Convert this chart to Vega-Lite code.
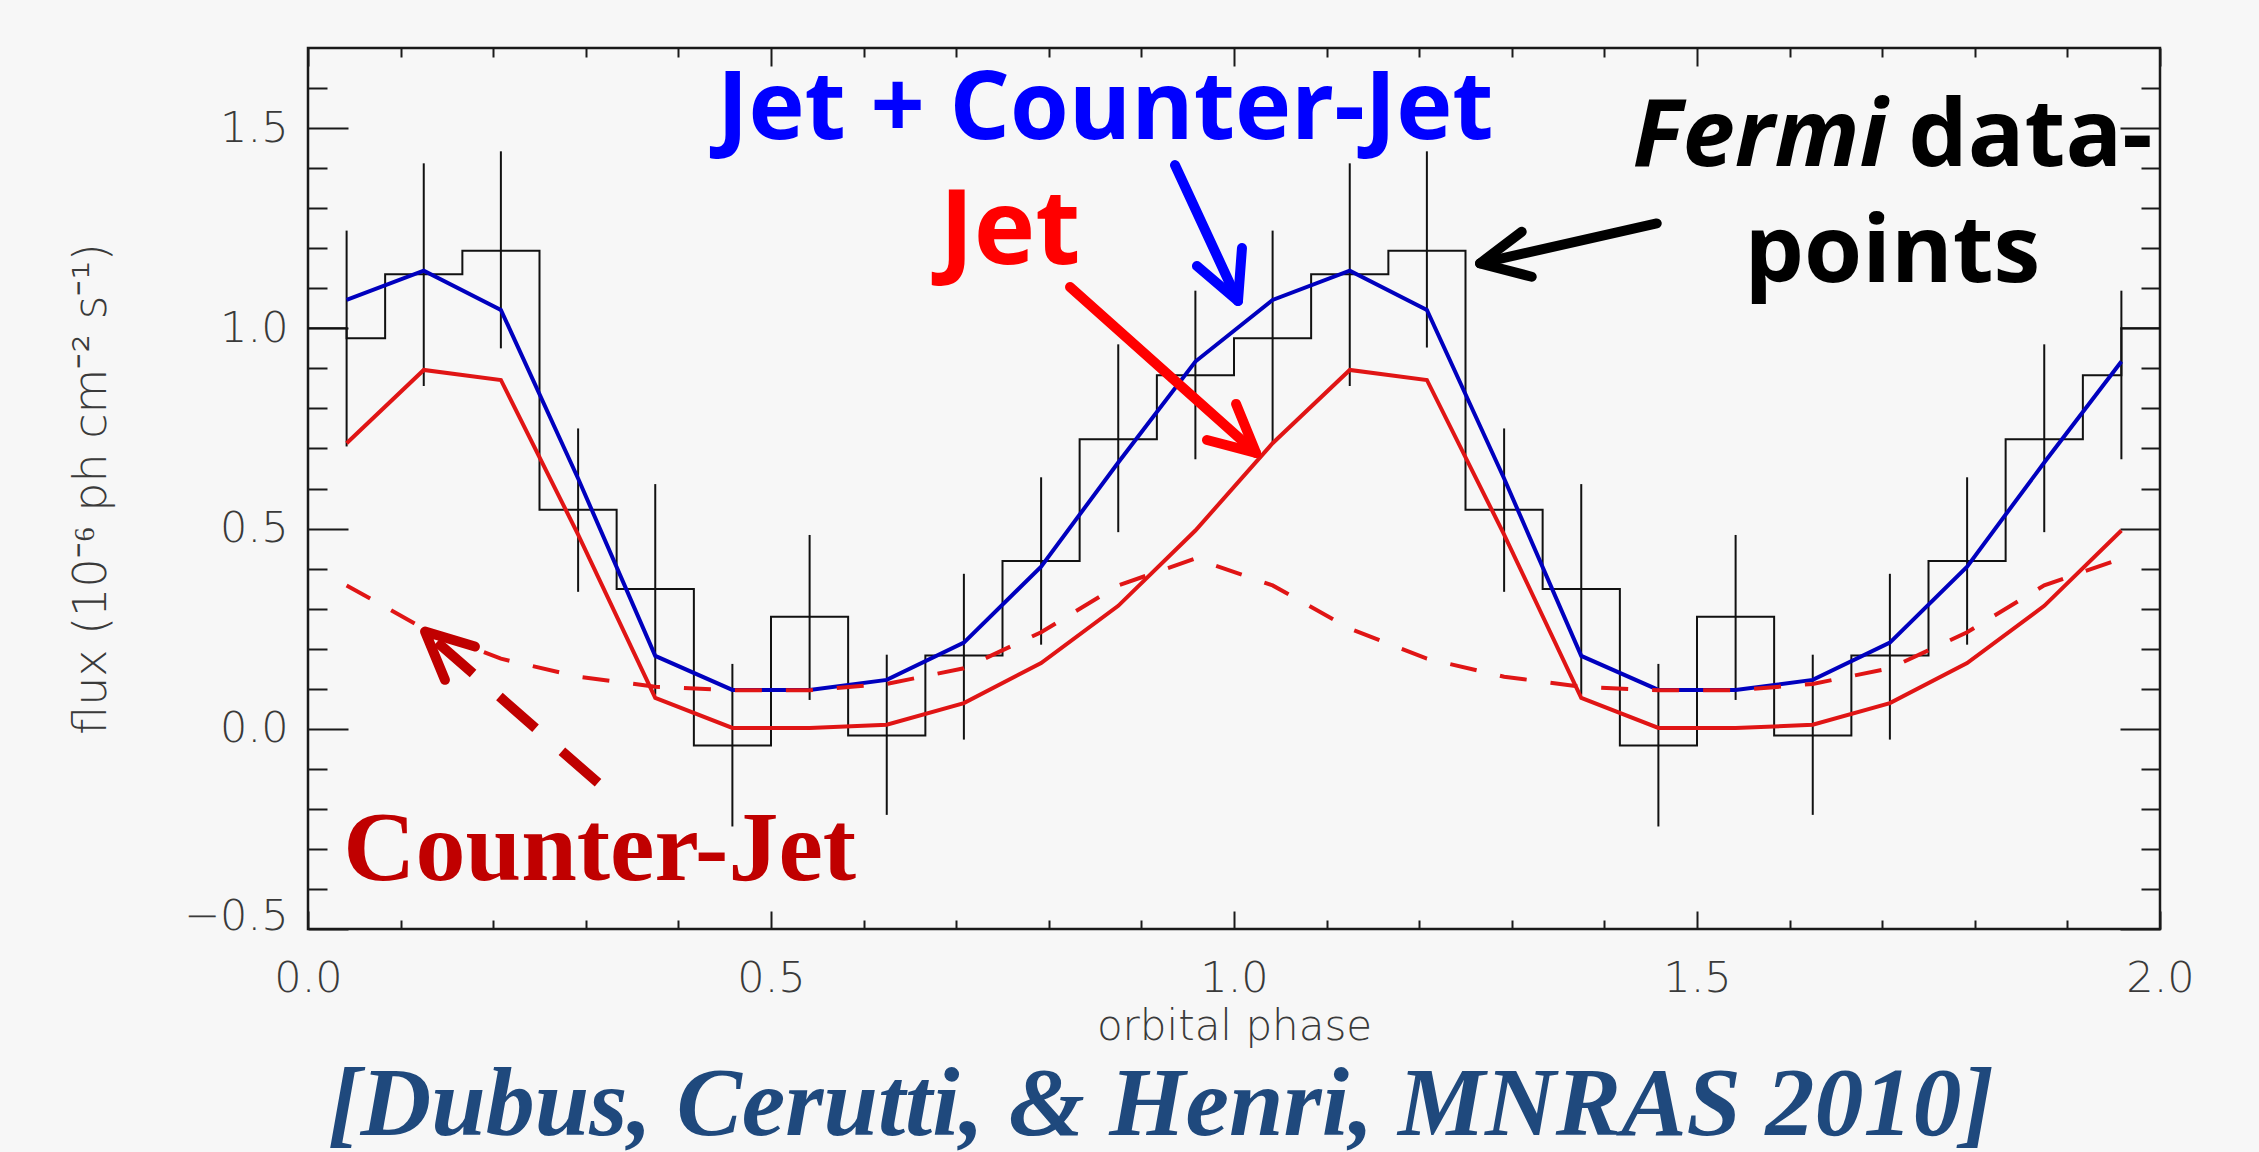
{
  "$schema": "https://vega.github.io/schema/vega-lite/v6.json",
  "width": 1852,
  "height": 881,
  "autosize": {"type": "none"},
  "padding": {"left": 308, "top": 48, "right": 99, "bottom": 223},
  "background": "#F7F7F7",
  "config": {
    "view": {"stroke": "#1a1a1a", "strokeWidth": 2.5},
    "axis": {
      "grid": false,
      "domain": false,
      "tickColor": "#1a1a1a",
      "tickWidth": 2,
      "labelFont": "DejaVu Sans",
      "labelFontWeight": 200,
      "labelFontSize": 43,
      "labelColor": "#3a3a3a",
      "labelOverlap": false,
      "titleFont": "DejaVu Sans",
      "titleFontWeight": 200,
      "titleColor": "#3a3a3a"
    }
  },
  "title": {
    "text": "[Dubus, Cerutti, & Henri, MNRAS 2010]",
    "orient": "bottom",
    "anchor": "middle",
    "frame": "group",
    "offset": 88,
    "baseline": "alphabetic",
    "dx": -73,
    "font": "Liberation Serif",
    "fontSize": 98,
    "fontStyle": "italic",
    "fontWeight": "bold",
    "color": "#1F497D"
  },
  "datasets": {
    "hist": [
      {"phase": 0, "flux": 1.0}, {"phase": 0.0417, "flux": 0.975}, {"phase": 0.0833, "flux": 1.135},
      {"phase": 0.1667, "flux": 1.194}, {"phase": 0.25, "flux": 0.547}, {"phase": 0.3333, "flux": 0.349},
      {"phase": 0.4167, "flux": -0.042}, {"phase": 0.5, "flux": 0.28}, {"phase": 0.5833, "flux": -0.017},
      {"phase": 0.6667, "flux": 0.183}, {"phase": 0.75, "flux": 0.419}, {"phase": 0.8333, "flux": 0.723},
      {"phase": 0.9167, "flux": 0.883}, {"phase": 1.0, "flux": 0.975}, {"phase": 1.0833, "flux": 1.135},
      {"phase": 1.1667, "flux": 1.194}, {"phase": 1.25, "flux": 0.547}, {"phase": 1.3333, "flux": 0.349},
      {"phase": 1.4167, "flux": -0.042}, {"phase": 1.5, "flux": 0.28}, {"phase": 1.5833, "flux": -0.017},
      {"phase": 1.6667, "flux": 0.183}, {"phase": 1.75, "flux": 0.419}, {"phase": 1.8333, "flux": 0.723},
      {"phase": 1.9167, "flux": 0.883}, {"phase": 1.9583, "flux": 1.0}, {"phase": 2.0, "flux": 1.0}
    ],
    "err": [
      {"phase": 0.0417, "lo": 0.705, "hi": 1.244}, {"phase": 0.125, "lo": 0.856, "hi": 1.412},
      {"phase": 0.2083, "lo": 0.95, "hi": 1.442}, {"phase": 0.2917, "lo": 0.342, "hi": 0.75},
      {"phase": 0.375, "lo": 0.085, "hi": 0.611}, {"phase": 0.4583, "lo": -0.244, "hi": 0.162},
      {"phase": 0.5417, "lo": 0.072, "hi": 0.484}, {"phase": 0.625, "lo": -0.215, "hi": 0.185},
      {"phase": 0.7083, "lo": -0.027, "hi": 0.387}, {"phase": 0.7917, "lo": 0.21, "hi": 0.628},
      {"phase": 0.875, "lo": 0.491, "hi": 0.96}, {"phase": 0.9583, "lo": 0.673, "hi": 1.094},
      {"phase": 1.0417, "lo": 0.715, "hi": 1.244}, {"phase": 1.125, "lo": 0.856, "hi": 1.412},
      {"phase": 1.2083, "lo": 0.952, "hi": 1.442}, {"phase": 1.2917, "lo": 0.342, "hi": 0.75},
      {"phase": 1.375, "lo": 0.085, "hi": 0.611}, {"phase": 1.4583, "lo": -0.244, "hi": 0.162},
      {"phase": 1.5417, "lo": 0.072, "hi": 0.484}, {"phase": 1.625, "lo": -0.215, "hi": 0.185},
      {"phase": 1.7083, "lo": -0.027, "hi": 0.387}, {"phase": 1.7917, "lo": 0.21, "hi": 0.628},
      {"phase": 1.875, "lo": 0.491, "hi": 0.96}, {"phase": 1.9583, "lo": 0.673, "hi": 1.094}
    ],
    "model": [
      {"phase": 0.0417, "total": 1.071, "jet": 0.713, "cj": 0.358},
      {"phase": 0.125, "total": 1.144, "jet": 0.896, "cj": 0.25},
      {"phase": 0.2083, "total": 1.046, "jet": 0.871, "cj": 0.175},
      {"phase": 0.2917, "total": 0.625, "jet": 0.485, "cj": 0.13},
      {"phase": 0.375, "total": 0.182, "jet": 0.077, "cj": 0.105},
      {"phase": 0.4583, "total": 0.097, "jet": 0.002, "cj": 0.096},
      {"phase": 0.5417, "total": 0.097, "jet": 0.002, "cj": 0.096},
      {"phase": 0.625, "total": 0.122, "jet": 0.01, "cj": 0.112},
      {"phase": 0.7083, "total": 0.215, "jet": 0.064, "cj": 0.151},
      {"phase": 0.7917, "total": 0.405, "jet": 0.164, "cj": 0.241},
      {"phase": 0.875, "total": 0.665, "jet": 0.307, "cj": 0.358},
      {"phase": 0.9583, "total": 0.917, "jet": 0.495, "cj": 0.425},
      {"phase": 1.0417, "total": 1.071, "jet": 0.713, "cj": 0.358},
      {"phase": 1.125, "total": 1.144, "jet": 0.896, "cj": 0.25},
      {"phase": 1.2083, "total": 1.046, "jet": 0.871, "cj": 0.175},
      {"phase": 1.2917, "total": 0.625, "jet": 0.485, "cj": 0.13},
      {"phase": 1.375, "total": 0.182, "jet": 0.077, "cj": 0.105},
      {"phase": 1.4583, "total": 0.097, "jet": 0.002, "cj": 0.096},
      {"phase": 1.5417, "total": 0.097, "jet": 0.002, "cj": 0.096},
      {"phase": 1.625, "total": 0.122, "jet": 0.01, "cj": 0.112},
      {"phase": 1.7083, "total": 0.215, "jet": 0.064, "cj": 0.151},
      {"phase": 1.7917, "total": 0.405, "jet": 0.164, "cj": 0.241},
      {"phase": 1.875, "total": 0.665, "jet": 0.307, "cj": 0.358},
      {"phase": 1.9583, "total": 0.917, "jet": 0.495, "cj": 0.425}
    ]
  },
  "resolve": {"axis": {"x": "independent", "y": "independent"}},
  "layer": [
    {
      "data": {"name": "hist"},
      "mark": {"type": "line", "interpolate": "step-after", "color": "#111111", "strokeWidth": 2},
      "encoding": {
        "x": {
          "field": "phase", "type": "quantitative",
          "scale": {"domain": [0, 2], "nice": false, "zero": false},
          "axis": {
            "orient": "bottom", "values": [0, 0.5, 1, 1.5, 2], "format": ".1f",
            "tickSize": -18, "labelPadding": 46, "labelFlush": false,
            "title": "orbital phase", "titleFontSize": 42, "titleX": 926, "titleY": 110,
            "titleBaseline": "alphabetic", "titleAlign": "center"
          }
        },
        "y": {
          "field": "flux", "type": "quantitative",
          "scale": {"domain": [-0.5, 1.7], "nice": false, "zero": false},
          "axis": {
            "orient": "left", "values": [-0.5, 0, 0.5, 1, 1.5], "format": ".1f",
            "tickSize": -40, "labelPadding": 60, "labelFlush": true, "labelFlushOffset": 9,
            "title": "flux (10⁻⁶ ph cm⁻² s⁻¹)", "titleFontSize": 46, "titleX": -203, "titleY": 440.5,
            "titleAngle": 270, "titleBaseline": "alphabetic", "titleAlign": "center"
          }
        }
      }
    },
    {
      "data": {"name": "err"},
      "mark": {"type": "rule", "color": "#111111", "strokeWidth": 2},
      "encoding": {
        "x": {
          "field": "phase", "type": "quantitative",
          "axis": {
            "orient": "bottom", "values": [0.1, 0.2, 0.3, 0.4, 0.6, 0.7, 0.8, 0.9, 1.1, 1.2, 1.3, 1.4, 1.6, 1.7, 1.8, 1.9],
            "tickSize": -9, "labels": false, "title": null
          }
        },
        "y": {
          "field": "lo", "type": "quantitative",
          "axis": {
            "orient": "left", "values": [-0.4, -0.3, -0.2, -0.1, 0.1, 0.2, 0.3, 0.4, 0.6, 0.7, 0.8, 0.9, 1.1, 1.2, 1.3, 1.4, 1.6],
            "tickSize": -19, "labels": false, "title": null
          }
        },
        "y2": {"field": "hi"}
      }
    },
    {
      "data": {"name": "model"},
      "mark": {"type": "line", "color": "#0000BE", "strokeWidth": 4},
      "encoding": {
        "x": {
          "field": "phase", "type": "quantitative",
          "axis": {"orient": "top", "values": [0, 0.5, 1, 1.5, 2], "tickSize": -18, "labels": false, "title": null}
        },
        "y": {
          "field": "total", "type": "quantitative",
          "axis": {"orient": "right", "values": [-0.5, 0, 0.5, 1, 1.5], "tickSize": -40, "labels": false, "title": null}
        }
      }
    },
    {
      "data": {"name": "model"},
      "mark": {"type": "line", "color": "#E01515", "strokeWidth": 4},
      "encoding": {
        "x": {
          "field": "phase", "type": "quantitative",
          "axis": {
            "orient": "top", "values": [0.1, 0.2, 0.3, 0.4, 0.6, 0.7, 0.8, 0.9, 1.1, 1.2, 1.3, 1.4, 1.6, 1.7, 1.8, 1.9],
            "tickSize": -9, "labels": false, "title": null
          }
        },
        "y": {
          "field": "jet", "type": "quantitative",
          "axis": {
            "orient": "right", "values": [-0.4, -0.3, -0.2, -0.1, 0.1, 0.2, 0.3, 0.4, 0.6, 0.7, 0.8, 0.9, 1.1, 1.2, 1.3, 1.4, 1.6],
            "tickSize": -19, "labels": false, "title": null
          }
        }
      }
    },
    {
      "data": {"name": "model"},
      "mark": {"type": "line", "color": "#E01515", "strokeWidth": 4, "strokeDash": [27, 24]},
      "encoding": {
        "x": {"field": "phase", "type": "quantitative", "axis": null},
        "y": {"field": "cj", "type": "quantitative", "axis": null}
      }
    },
    {
      "data": {"values": [
        {"seg": "shaft", "i": 0, "x": 0.9363, "y": 1.4075}, {"seg": "shaft", "i": 1, "x": 1.0043, "y": 1.0681},
        {"seg": "head", "i": 0, "x": 1.0086, "y": 1.2004}, {"seg": "head", "i": 1, "x": 1.0043, "y": 1.0681},
        {"seg": "head", "i": 2, "x": 0.96, "y": 1.1555}
      ]},
      "mark": {"type": "line", "color": "#0000FF", "strokeWidth": 10, "strokeCap": "round", "strokeJoin": "round"},
      "encoding": {
        "x": {"field": "x", "type": "quantitative", "axis": null},
        "y": {"field": "y", "type": "quantitative", "axis": null},
        "detail": {"field": "seg"},
        "order": {"field": "i"}
      }
    },
    {
      "data": {"values": [
        {"seg": "shaft", "i": 0, "x": 0.8229, "y": 1.1031}, {"seg": "shaft", "i": 1, "x": 1.0238, "y": 0.6888},
        {"seg": "head", "i": 0, "x": 1.0022, "y": 0.8111}, {"seg": "head", "i": 1, "x": 1.0238, "y": 0.6888},
        {"seg": "head", "i": 2, "x": 0.9708, "y": 0.7212}
      ]},
      "mark": {"type": "line", "color": "#FF0000", "strokeWidth": 10, "strokeCap": "round", "strokeJoin": "round"},
      "encoding": {
        "x": {"field": "x", "type": "quantitative", "axis": null},
        "y": {"field": "y", "type": "quantitative", "axis": null},
        "detail": {"field": "seg"},
        "order": {"field": "i"}
      }
    },
    {
      "data": {"values": [
        {"seg": "shaft", "i": 0, "x": 1.4565, "y": 1.262}, {"seg": "shaft", "i": 1, "x": 1.2657, "y": 1.1622},
        {"seg": "head", "i": 0, "x": 1.3107, "y": 1.2411}, {"seg": "head", "i": 1, "x": 1.2657, "y": 1.1622},
        {"seg": "head", "i": 2, "x": 1.3215, "y": 1.1288}
      ]},
      "mark": {"type": "line", "color": "#000000", "strokeWidth": 10, "strokeCap": "round", "strokeJoin": "round"},
      "encoding": {
        "x": {"field": "x", "type": "quantitative", "axis": null},
        "y": {"field": "y", "type": "quantitative", "axis": null},
        "detail": {"field": "seg"},
        "order": {"field": "i"}
      }
    },
    {
      "data": {"values": [
        {"i": 0, "x": 0.3132, "y": -0.135}, {"i": 1, "x": 0.1264, "y": 0.2428}
      ]},
      "mark": {"type": "line", "color": "#C00000", "strokeWidth": 10, "strokeDash": [48, 35]},
      "encoding": {
        "x": {"field": "x", "type": "quantitative", "axis": null},
        "y": {"field": "y", "type": "quantitative", "axis": null},
        "order": {"field": "i"}
      }
    },
    {
      "data": {"values": [
        {"i": 0, "x": 0.1803, "y": 0.2054}, {"i": 1, "x": 0.1264, "y": 0.2428}, {"i": 2, "x": 0.1479, "y": 0.1223}
      ]},
      "mark": {"type": "line", "color": "#C00000", "strokeWidth": 10, "strokeCap": "round", "strokeJoin": "round"},
      "encoding": {
        "x": {"field": "x", "type": "quantitative", "axis": null},
        "y": {"field": "y", "type": "quantitative", "axis": null},
        "order": {"field": "i"}
      }
    },
    {
      "data": {"values": [{"label": "Jet + Counter-Jet", "x": 0.861, "y": 1.472}]},
      "mark": {"type": "text", "font": "Open Sans", "fontWeight": "bold", "fontSize": 95, "color": "#0000FF", "align": "center", "baseline": "alphabetic"},
      "encoding": {
        "x": {"field": "x", "type": "quantitative", "axis": null},
        "y": {"field": "y", "type": "quantitative", "axis": null},
        "text": {"field": "label"}
      }
    },
    {
      "data": {"values": [{"label": "Jet", "x": 0.758, "y": 1.16}]},
      "mark": {"type": "text", "font": "Open Sans", "fontWeight": "bold", "fontSize": 104, "color": "#FF0000", "align": "center", "baseline": "alphabetic"},
      "encoding": {
        "x": {"field": "x", "type": "quantitative", "axis": null},
        "y": {"field": "y", "type": "quantitative", "axis": null},
        "text": {"field": "label"}
      }
    },
    {
      "data": {"values": [{"label": "Fermi", "x": 1.568, "y": 1.405}]},
      "mark": {"type": "text", "font": "Open Sans", "fontWeight": "bold", "fontStyle": "italic", "fontSize": 94, "color": "#000000", "align": "center", "baseline": "alphabetic"},
      "encoding": {
        "x": {"field": "x", "type": "quantitative", "axis": null},
        "y": {"field": "y", "type": "quantitative", "axis": null},
        "text": {"field": "label"}
      }
    },
    {
      "data": {"values": [{"label": "data-", "x": 1.86, "y": 1.405}, {"label": "points", "x": 1.711, "y": 1.116}]},
      "mark": {"type": "text", "font": "Open Sans", "fontWeight": "bold", "fontSize": 94, "color": "#000000", "align": "center", "baseline": "alphabetic"},
      "encoding": {
        "x": {"field": "x", "type": "quantitative", "axis": null},
        "y": {"field": "y", "type": "quantitative", "axis": null},
        "text": {"field": "label"}
      }
    },
    {
      "data": {"values": [{"label": "Counter-Jet", "x": 0.315, "y": -0.378}]},
      "mark": {"type": "text", "font": "Liberation Serif", "fontWeight": "bold", "fontSize": 100, "color": "#C00000", "align": "center", "baseline": "alphabetic"},
      "encoding": {
        "x": {"field": "x", "type": "quantitative", "axis": null},
        "y": {"field": "y", "type": "quantitative", "axis": null},
        "text": {"field": "label"}
      }
    }
  ]
}
